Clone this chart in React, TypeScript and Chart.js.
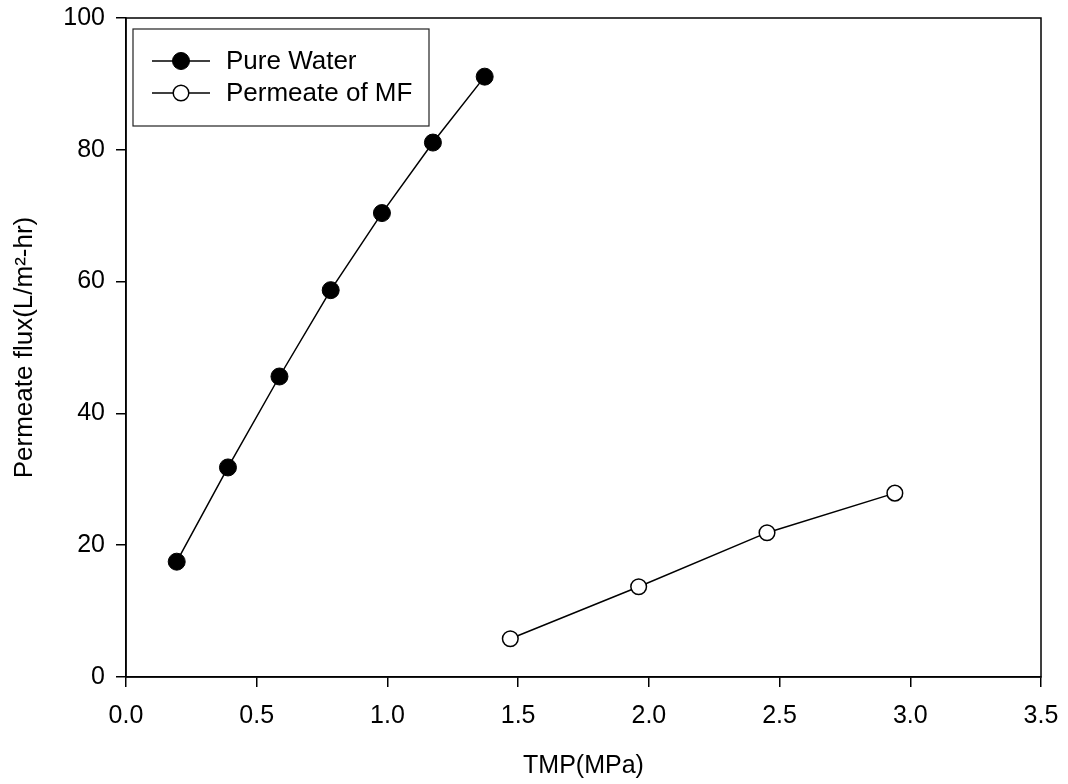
import React, { useEffect, useRef } from "react";
import { Chart, registerables } from "chart.js";

Chart.register(...registerables);

const pureTMP = [0.194, 0.39, 0.587, 0.783, 0.979, 1.174, 1.372];
const pureFlux = [17.5, 31.8, 45.6, 58.7, 70.4, 81.1, 91.1];
const mfTMP = [1.47, 1.961, 2.452, 2.941];
const mfFlux = [5.8, 13.7, 21.9, 27.9];
const seriesNames = ["Pure Water", "Permeate of MF"];
const xTitle = "TMP(MPa)";
const yTitle = "Permeate flux(L/m\u00B2-hr)";

const FONT = "'Liberation Sans', Arial, Helvetica, sans-serif";

const framePlugin = {
  id: "frameAndLegend",
  afterDraw(chart: any) {
    const { ctx, chartArea } = chart;
    const { left, top, right, bottom } = chartArea;
    ctx.save();
    ctx.strokeStyle = "#000";
    ctx.lineWidth = 1.5;
    ctx.strokeRect(left, top, right - left, bottom - top);

    // legend box
    const bx = left + 7;
    const by = top + 11;
    const bw = 296;
    const bh = 97;
    ctx.lineWidth = 1.2;
    ctx.strokeStyle = "#222";
    ctx.strokeRect(bx, by, bw, bh);

    chart.data.datasets.forEach((ds: any, i: number) => {
      const cy = by + 32 + i * 32;
      const x0 = bx + 19;
      const x1 = bx + 77;
      const cx = (x0 + x1) / 2;
      ctx.strokeStyle = "#000";
      ctx.lineWidth = 1.5;
      ctx.beginPath();
      ctx.moveTo(x0, cy);
      ctx.lineTo(x1, cy);
      ctx.stroke();
      ctx.beginPath();
      ctx.arc(cx, cy, ds.pointRadius, 0, Math.PI * 2);
      ctx.fillStyle = ds.pointBackgroundColor;
      ctx.fill();
      ctx.lineWidth = ds.pointBorderWidth;
      ctx.stroke();
      ctx.fillStyle = "#000";
      ctx.font = `26px ${FONT}`;
      ctx.textAlign = "left";
      ctx.textBaseline = "middle";
      ctx.fillText(ds.label, bx + 93, cy + 1);
    });
    ctx.restore();
  },
};

export default function App() {
  const ref = useRef<HTMLCanvasElement | null>(null);

  useEffect(() => {
    if (!ref.current) return;
    const chart = new Chart(ref.current, {
      type: "scatter",
      data: {
        datasets: [
          {
            label: seriesNames[0],
            data: pureTMP.map((x, i) => ({ x, y: pureFlux[i] })),
            showLine: true,
            borderColor: "#000",
            borderWidth: 1.5,
            pointRadius: 8.5,
            pointBackgroundColor: "#000",
            pointBorderColor: "#000",
            pointBorderWidth: 1,
          },
          {
            label: seriesNames[1],
            data: mfTMP.map((x, i) => ({ x, y: mfFlux[i] })),
            showLine: true,
            borderColor: "#000",
            borderWidth: 1.5,
            pointRadius: 7.8,
            pointBackgroundColor: "#fff",
            pointBorderColor: "#000",
            pointBorderWidth: 1.5,
          },
        ],
      },
      options: {
        responsive: false,
        animation: false,
        layout: { padding: { left: 0, top: 18, right: 27, bottom: 0 } },
        plugins: {
          legend: { display: false },
          tooltip: { enabled: false },
        },
        scales: {
          x: {
            type: "linear",
            min: 0,
            max: 3.5,
            afterFit: (s: any) => {
              s.height = 107;
              s.paddingLeft = 0;
              s.paddingRight = 0;
            },
            ticks: {
              stepSize: 0.5,
              color: "#000",
              padding: 14,
              font: { family: FONT, size: 25 },
              callback: (v: any) => Number(v).toFixed(1),
            },
            grid: {
              display: true,
              drawOnChartArea: false,
              drawTicks: true,
              tickLength: 10,
              color: "#000",
              lineWidth: 1.5,
            },
            border: { display: true, color: "#000", width: 1.5 },
            title: {
              display: true,
              text: xTitle,
              color: "#000",
              font: { family: FONT, size: 25 },
              padding: { top: 0, bottom: 3 },
            },
          },
          y: {
            type: "linear",
            min: 0,
            max: 100,
            afterFit: (s: any) => {
              s.width = 126;
              s.paddingTop = 0;
              s.paddingBottom = 0;
            },
            ticks: {
              stepSize: 20,
              color: "#000",
              padding: 11,
              font: { family: FONT, size: 25 },
            },
            grid: {
              display: true,
              drawOnChartArea: false,
              drawTicks: true,
              tickLength: 10,
              color: "#000",
              lineWidth: 1.5,
            },
            border: { display: true, color: "#000", width: 1.5 },
            title: {
              display: true,
              text: yTitle,
              color: "#000",
              font: { family: FONT, size: 26 },
              padding: { top: 9, bottom: 0 },
            },
          },
        },
      },
      plugins: [framePlugin],
    });
    return () => chart.destroy();
  }, []);

  return (
    <div style={{ position: "absolute", left: 0, top: 0, width: 1068, height: 784, background: "#fff" }}>
      <canvas ref={ref} width={1068} height={784} />
    </div>
  );
}
